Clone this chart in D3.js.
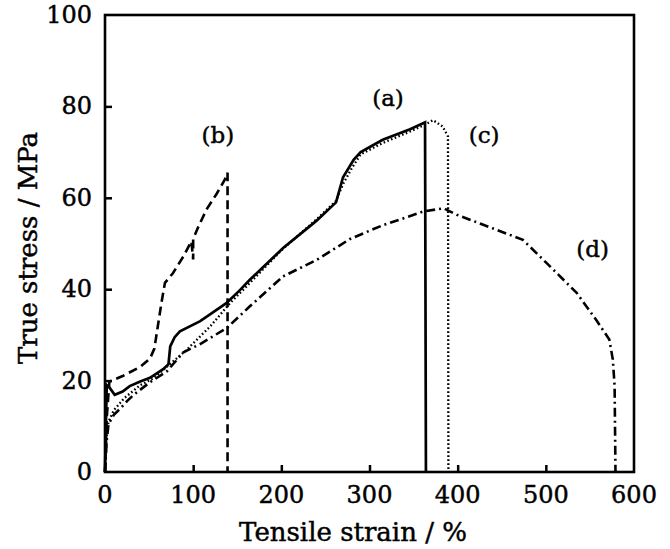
<!DOCTYPE html>
<html>
<head>
<meta charset="utf-8">
<script src="https://cdn.jsdelivr.net/npm/d3@7"></script>
<style>
  body { margin: 0; background: #fff; }
  text { font-family: "DejaVu Serif", serif; fill: #000; stroke: #000; stroke-width: 0.45px; }
</style>
</head>
<body>
<div id="chart"></div>
<script>
// true stress vs tensile strain, four samples (a)-(d)

// [strain %, stress MPa]
var curveA = [[0,0],[1,10],[2,19],[5,18.5],[11,16.9],[20,17.6],[28,18.8],[40,19.8],[51,20.6],[66,22.5],[72,23.6],[74,27.5],[79,29.5],[85,30.8],[108,33],[138,37],[153,39.8],[164,42],[202,49],[221,52],[240,55],[262,59],[270,64.5],[282,68.3],[290,70],[315,72.7],[346,75],[363,76.5],[364,0]];
var curveB = [[0,0],[2,12],[5,19.8],[20,21],[40,23],[51,24.8],[56,27],[60,32],[64,37],[68,41.4],[77,43.5],[89,47.2],[98,50.5],[100,46.5],[100,51],[106,53.7],[115,57.4],[127,61],[136,64],[139,65.5],[139,0]];
var curveC = [[0,0],[2,8],[4,11],[10,13.5],[22,16.2],[40,19],[55,20.5],[70,23],[93,26.8],[120,32],[142,37],[160,40.5],[200,48.5],[240,55.3],[262,59.3],[270,63],[280,66.5],[290,69.5],[315,72],[346,74.5],[363,76],[372,77],[383,75.6],[389,73.4],[389.5,0]];
var curveD = [[0,0],[2,7],[4,10.5],[10,12.5],[17,13.8],[25,15.5],[32,16.8],[50,19.5],[70,22],[89,26.2],[108,28],[138,31.5],[164,36.2],[202,42.8],[240,46.4],[278,51],[315,54],[340,55.6],[361,57],[384,57.7],[399,56.3],[429,54.1],[474,50.8],[501,45.7],[535,39.2],[557,33.3],[572,29],[576,24.6],[578,18.8],[579,0]];

var xTicks = [0, 100, 200, 300, 400, 500, 600];
var yTicks = [0, 20, 40, 60, 80, 100];

var labels = ['(a)', '(b)', '(c)', '(d)'];
var labelPos = [[321, 80], [128, 72], [430, 72], [553, 47]]; // [strain, stress] where each tag sits

var width = 670, height = 549;
var margin = {left: 105, right: 36, top: 15, bottom: 77};

var svg = d3.select('#chart').append('svg')
    .attr('width', width)
    .attr('height', height);

var x = d3.scaleLinear().domain([0, 600]).range([margin.left, width - margin.right]);
var y = d3.scaleLinear().domain([0, 100]).range([height - margin.bottom, margin.top]);

// inward ticks, no labels from the axis itself (labels placed below)
var xAxis = d3.axisTop(x).tickValues([100, 200, 300, 400, 500]).tickSize(7).tickFormat('');
var yAxis = d3.axisRight(y).tickValues([20, 40, 60, 80]).tickSize(7).tickFormat('');

svg.append('g')
    .attr('transform', 'translate(0,' + y(0) + ')')
    .call(xAxis)
    .call(g => g.select('.domain').remove())
    .selectAll('line').attr('stroke-width', 2.5);

svg.append('g')
    .attr('transform', 'translate(' + x(0) + ',0)')
    .call(yAxis)
    .call(g => g.select('.domain').remove())
    .selectAll('line').attr('stroke-width', 2.5);

// tick labels
svg.selectAll('.xlab').data(xTicks).enter().append('text')
    .attr('class', 'xlab')
    .attr('x', d => x(d))
    .attr('y', y(0) + 31)
    .attr('text-anchor', 'middle')
    .attr('font-size', 24)
    .text(d => d);

svg.selectAll('.ylab').data(yTicks).enter().append('text')
    .attr('class', 'ylab')
    .attr('x', x(0) - 13)
    .attr('y', d => y(d) + 8)
    .attr('text-anchor', 'end')
    .attr('font-size', 24)
    .text(d => d);

// axis titles
svg.append('text')
    .attr('x', 353)
    .attr('y', 541)
    .attr('text-anchor', 'middle')
    .attr('font-size', 26)
    .text('Tensile strain / %');

svg.append('text')
    .attr('transform', 'translate(37,248) rotate(-90)')
    .attr('text-anchor', 'middle')
    .attr('font-size', 26)
    .text('True stress / MPa');

var line = d3.line().x(d => x(d[0])).y(d => y(d[1]));

var series = [
  {data: curveD, dash: '9,4,2,4', w: 2.6},
  {data: curveC, dash: '1.6,2.4', w: 2.3},
  {data: curveB, dash: '9,5', w: 2.6},
  {data: curveA, dash: null, w: 2.7}
];

series.forEach(function(s) {
  svg.append('path')
      .datum(s.data)
      .attr('d', line)
      .attr('fill', 'none')
      .attr('stroke', '#000')
      .attr('stroke-width', s.w)
      .attr('stroke-dasharray', s.dash);
});

// frame
svg.append('rect')
    .attr('x', x(0))
    .attr('y', y(100))
    .attr('width', x(600) - x(0))
    .attr('height', y(0) - y(100))
    .attr('fill', 'none')
    .attr('stroke', '#000')
    .attr('stroke-width', 2.6);

// curve tags
svg.selectAll('.tag').data(labels).enter().append('text')
    .attr('class', 'tag')
    .attr('x', (d, i) => x(labelPos[i][0]))
    .attr('y', (d, i) => y(labelPos[i][1]))
    .attr('text-anchor', 'middle')
    .attr('font-size', 23)
    .text(d => d);
</script>
</body>
</html>
